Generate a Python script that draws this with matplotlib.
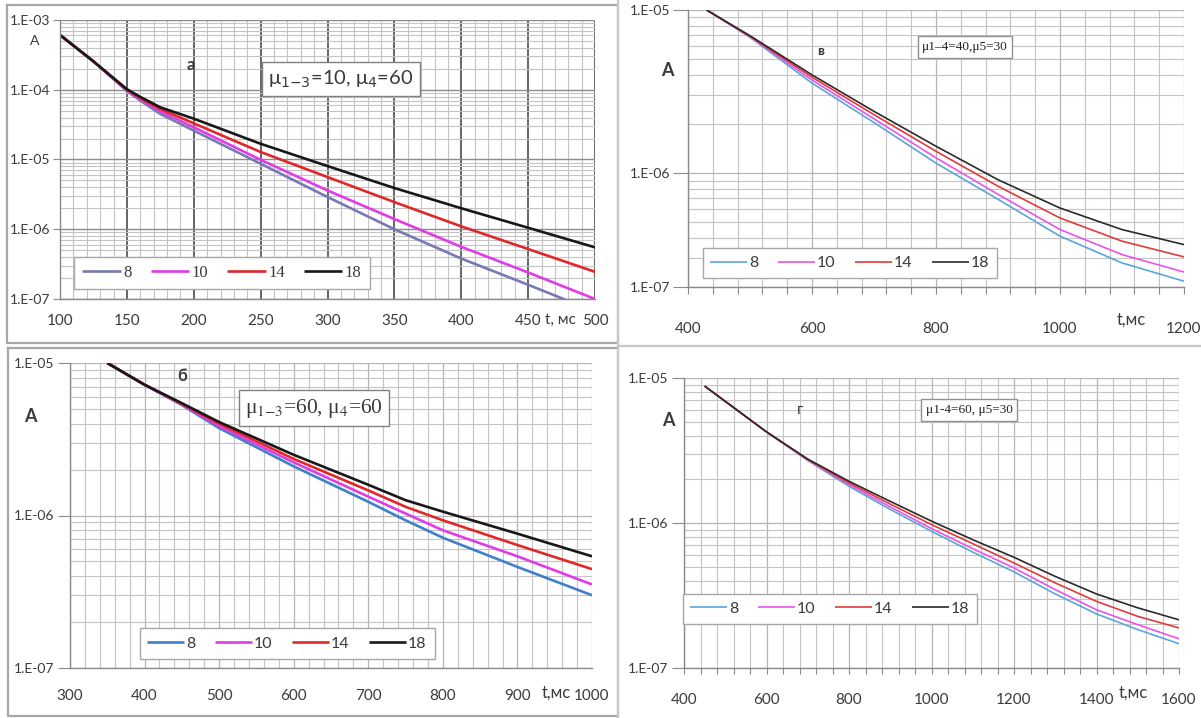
import numpy as np
import matplotlib.pyplot as plt
from matplotlib.lines import Line2D
from matplotlib.ticker import (FixedLocator, FixedFormatter, MultipleLocator,
                               LogLocator, NullFormatter)

W, H = 1201, 718

series = ['8', '10', '14', '18']

# а: mu1-3 = 10, mu4 = 60
t_a = [100, 125, 150, 160, 175, 200, 250, 300, 350, 400, 450, 500]
a8 = [6.1e-4, 2.55e-4, 9.6e-5, 7.0e-5, 4.5e-5, 2.6e-5, 8.7e-6, 2.9e-6, 1.0e-6, 3.8e-7, 1.6e-7, 6.6e-8]
a10 = [6.1e-4, 2.55e-4, 9.8e-5, 7.3e-5, 4.9e-5, 2.9e-5, 9.9e-6, 3.6e-6, 1.4e-6, 5.6e-7, 2.4e-7, 1.0e-7]
a14 = [6.1e-4, 2.55e-4, 1.0e-4, 7.6e-5, 5.3e-5, 3.3e-5, 1.28e-5, 5.6e-6, 2.45e-6, 1.1e-6, 5.2e-7, 2.45e-7]
a18 = [6.1e-4, 2.55e-4, 1.02e-4, 7.9e-5, 5.6e-5, 3.85e-5, 1.68e-5, 8.05e-6, 3.9e-6, 2.0e-6, 1.05e-6, 5.5e-7]

# б: mu1-3 = 60, mu4 = 60
t_b = [350, 400, 450, 500, 600, 700, 750, 800, 900, 1000]
b8 = [1.0e-5, 7.2e-6, 5.3e-6, 3.74e-6, 2.1e-6, 1.23e-6, 9.3e-7, 7.15e-7, 4.6e-7, 3.0e-7]
b10 = [1.0e-5, 7.2e-6, 5.35e-6, 3.85e-6, 2.23e-6, 1.33e-6, 1.03e-6, 8.0e-7, 5.4e-7, 3.53e-7]
b14 = [1.0e-5, 7.2e-6, 5.4e-6, 4.0e-6, 2.35e-6, 1.46e-6, 1.14e-6, 9.3e-7, 6.4e-7, 4.45e-7]
b18 = [1.0e-5, 7.2e-6, 5.45e-6, 4.1e-6, 2.5e-6, 1.59e-6, 1.26e-6, 1.06e-6, 7.6e-7, 5.4e-7]

# в: mu1-4 = 40, mu5 = 30
t_v = [430, 500, 600, 700, 800, 900, 1000, 1100, 1200]
v8 = [1e-5, 6.8e-6, 3.56e-6, 2.04e-6, 1.15e-6, 6.9e-7, 4.1e-7, 2.81e-7, 2.17e-7]
v10 = [1e-5, 6.85e-6, 3.72e-6, 2.15e-6, 1.24e-6, 7.4e-7, 4.5e-7, 3.16e-7, 2.47e-7]
v14 = [1e-5, 6.9e-6, 3.87e-6, 2.28e-6, 1.36e-6, 8.3e-7, 5.3e-7, 3.82e-7, 3.06e-7]
v18 = [1e-5, 6.95e-6, 4.0e-6, 2.39e-6, 1.46e-6, 9.1e-7, 6.1e-7, 4.5e-7, 3.64e-7]

# г: mu1-4 = 60, mu5 = 30
t_g = [450, 500, 600, 700, 800, 900, 1000, 1100, 1200, 1300, 1400, 1500, 1600]
g8 = [8.8e-6, 6.9e-6, 4.25e-6, 2.70e-6, 1.79e-6, 1.24e-6, 8.76e-7, 6.3e-7, 4.6e-7, 3.24e-7, 2.36e-7, 1.84e-7, 1.47e-7]
g10 = [8.8e-6, 6.9e-6, 4.25e-6, 2.72e-6, 1.84e-6, 1.29e-6, 9.15e-7, 6.65e-7, 4.9e-7, 3.47e-7, 2.52e-7, 1.99e-7, 1.59e-7]
g14 = [8.8e-6, 6.9e-6, 4.25e-6, 2.74e-6, 1.89e-6, 1.35e-6, 9.75e-7, 7.2e-7, 5.3e-7, 3.86e-7, 2.88e-7, 2.27e-7, 1.89e-7]
g18 = [8.8e-6, 6.9e-6, 4.25e-6, 2.76e-6, 1.94e-6, 1.41e-6, 1.03e-6, 7.67e-7, 5.8e-7, 4.28e-7, 3.24e-7, 2.6e-7, 2.15e-7]

SANS = ['Lato', 'Open Sans', 'DejaVu Sans']
SERIF = ['Liberation Serif', 'DejaVu Serif']
TXT = '#3a3a3a'

fig = plt.figure(figsize=(W / 100, H / 100), dpi=100)
fig.patch.set_facecolor('white')


def px_axes(l, t, r, b):
    return fig.add_axes([l / W, 1 - b / H, (r - l) / W, (b - t) / H])


def ftext(x, y, s, **kw):
    kw.setdefault('color', TXT)
    return fig.text(x / W, 1 - y / H, s, **kw)


def fline(xs, ys, **kw):
    fig.add_artist(Line2D([x / W for x in xs], [1 - y / H for y in ys],
                          transform=fig.transFigure, **kw))


def setup(ax, xlim, ylim, xmaj, xstep, yticks, ylabels, xpad, ylen,
          xtick_len=0, dark_major=False):
    ax.set_yscale('log')
    ax.set_xlim(*xlim)
    ax.set_ylim(*ylim)
    ax.xaxis.set_major_locator(FixedLocator(xmaj))
    ax.xaxis.set_minor_locator(MultipleLocator(xstep))
    ax.yaxis.set_major_locator(FixedLocator(yticks))
    ax.yaxis.set_major_formatter(FixedFormatter(ylabels))
    ax.yaxis.set_minor_locator(LogLocator(base=10, subs=np.arange(2, 10)))
    ax.yaxis.set_minor_formatter(NullFormatter())
    ax.grid(which='minor', color='#c4c4c4', lw=0.8)
    if dark_major:
        ax.grid(which='major', axis='x', color='#3c3c3c', lw=1.1)
        ax.grid(which='major', axis='y', color='#8c8c8c', lw=1.0)
    else:
        ax.grid(which='major', color='#b4b4b4', lw=0.9)
    ax.set_axisbelow(True)
    for s in ('top', 'right'):
        ax.spines[s].set_visible(False)
    for s in ('left', 'bottom'):
        ax.spines[s].set_color('#8a8a8a')
        ax.spines[s].set_linewidth(1.0)
    ax.tick_params(axis='y', which='major', length=ylen, width=0.8, color='#8a8a8a',
                   pad=2, labelsize=10, labelcolor=TXT)
    ax.tick_params(axis='y', which='minor', length=0)
    ax.tick_params(axis='x', which='both', length=xtick_len, width=0.8,
                   color='#8a8a8a', pad=xpad, labelsize=11, labelcolor=TXT)
    for lab in ax.get_xticklabels() + ax.get_yticklabels():
        lab.set_family(SANS)


def draw(ax, t, ys, colors, lw):
    for name, y, c in zip(series, ys, colors):
        ax.plot(t, y, color=c, lw=lw, label=name, solid_capstyle='butt')


def legend(ax, box, fam, size, hl, cs):
    l, t, r, b = box
    leg = ax.legend(loc='center', ncol=4, frameon=True, fancybox=False,
                    bbox_to_anchor=((l + r) / 2 / W, 1 - (t + b) / 2 / H),
                    bbox_transform=fig.transFigure, handlelength=hl,
                    handletextpad=0.15, columnspacing=cs, borderpad=0.5,
                    borderaxespad=0, prop={'family': fam, 'size': size},
                    labelcolor=TXT)
    leg.get_frame().set_edgecolor('#a8a8a8')
    leg.get_frame().set_linewidth(1.0)
    leg.get_frame().set_alpha(1)


# panel borders
fline([7, 618, 618, 7, 7], [5, 5, 343, 343, 5], color='#a6a6a6', lw=1.6)
fline([8, 618, 618, 8, 8], [348, 348, 716, 716, 348], color='#a6a6a6', lw=1.6)
fline([618, 1201], [346, 346], color='#c8c8c8', lw=1.6)
fline([618, 618], [0, 718], color='#c8c8c8', lw=1.6)

# а
ax_a = px_axes(60, 20, 595, 299)
setup(ax_a, (100, 500), (1e-7, 1e-3), list(range(100, 501, 50)), 10,
      [1e-7, 1e-6, 1e-5, 1e-4, 1e-3], ['1.E-07', '1.E-06', '1.E-05', '1.E-04', '1.E-03'],
      xpad=11, ylen=5, dark_major=True)
draw(ax_a, t_a, [a8, a10, a14, a18], ['#7878b4', '#e03ce6', '#e02828', '#181818'], 1.9)
legend(ax_a, (78, 258, 366, 288), SERIF, 12, 2.3, 1.15)
ftext(35, 41, 'A', fontsize=10, family=SANS, ha='center', va='center')
ftext(191, 65, 'а', fontsize=12, fontweight='bold', family=SANS, ha='center', va='center')
ftext(341, 79, 'μ$_{1{-}3}$=10, μ$_4$=60', fontsize=14.5, family=SANS,
      math_fontfamily='dejavusans', ha='center', va='center',
      bbox=dict(boxstyle='square,pad=0.3', fc='white', ec='#808080', lw=1))
ftext(560, 320, 't, мс', fontsize=11, family=SANS, ha='center', va='center')

# б
ax_b = px_axes(70, 363, 592, 668)
setup(ax_b, (300, 1000), (1e-7, 1e-5), list(range(300, 1001, 100)), 20,
      [1e-7, 1e-6, 1e-5], ['1.E-07', '1.E-06', '1.E-05'], xpad=15, ylen=9)
draw(ax_b, t_b, [b8, b10, b14, b18], ['#3f7fcc', '#e03ce6', '#e02828', '#181818'], 1.9)
legend(ax_b, (146, 628, 428, 659), SANS, 11.5, 2.3, 1.2)
ftext(30, 416, 'A', fontsize=13, fontweight='bold', family=SANS, ha='center', va='center')
ftext(182, 376, 'б', fontsize=12, fontweight='bold', family=SANS, ha='center', va='center')
ftext(314, 408, 'μ$_{1{-}3}$=60, μ$_4$=60', fontsize=15.5, family=SERIF,
      math_fontfamily='stix', ha='center', va='center',
      bbox=dict(boxstyle='square,pad=0.3', fc='white', ec='#808080', lw=1))
ftext(556, 693, 't,мс', fontsize=12, family=SANS, ha='center', va='center')

# в
ax_v = px_axes(688, 10, 1184, 287)
setup(ax_v, (400, 1200), (2e-7, 1e-5), [400, 600, 800, 1000, 1200], 40,
      [2e-7, 1e-6, 1e-5], ['1.E-07', '1.E-06', '1.E-05'], xpad=20, ylen=11,
      xtick_len=5)
draw(ax_v, t_v, [v8, v10, v14, v18], ['#5aa6dc', '#e655e8', '#e23a3a', '#2a2a2a'], 1.2)
legend(ax_v, (709, 248, 991, 278), SANS, 11.5, 2.3, 1.2)
ftext(667, 70, 'A', fontsize=13, fontweight='bold', family=SANS, ha='center', va='center')
ftext(821, 51, 'в', fontsize=10, fontweight='bold', family=SANS, ha='center', va='center')
ftext(965, 47, 'μ1–4=40,μ5=30', fontsize=9.5, family=SERIF, ha='center', va='center',
      color='#222222',
      bbox=dict(boxstyle='square,pad=0.35', fc='white', ec='#909090', lw=1))
ftext(1131, 320, 't,мс', fontsize=12, family=SANS, ha='center', va='center')

# г
ax_g = px_axes(684, 378, 1179, 668)
setup(ax_g, (400, 1600), (1e-7, 1e-5), list(range(400, 1601, 200)), 40,
      [1e-7, 1e-6, 1e-5], ['1.E-07', '1.E-06', '1.E-05'], xpad=14, ylen=9,
      xtick_len=4)
draw(ax_g, t_g, [g8, g10, g14, g18], ['#5aa6dc', '#e655e8', '#e23a3a', '#2a2a2a'], 1.2)
legend(ax_g, (689, 594, 971, 624), SANS, 11.5, 2.3, 1.2)
ftext(668, 420, 'A', fontsize=13, fontweight='bold', family=SANS, ha='center', va='center')
ftext(800, 410, 'г', fontsize=11, family=SANS, ha='center', va='center')
ftext(969, 410, 'μ1-4=60, μ5=30', fontsize=9.5, family=SERIF, ha='center', va='center',
      color='#222222',
      bbox=dict(boxstyle='square,pad=0.35', fc='white', ec='#909090', lw=1))
ftext(1133, 693, 't,мс', fontsize=12, family=SANS, ha='center', va='center')

fig.savefig('out.png', dpi=100)
